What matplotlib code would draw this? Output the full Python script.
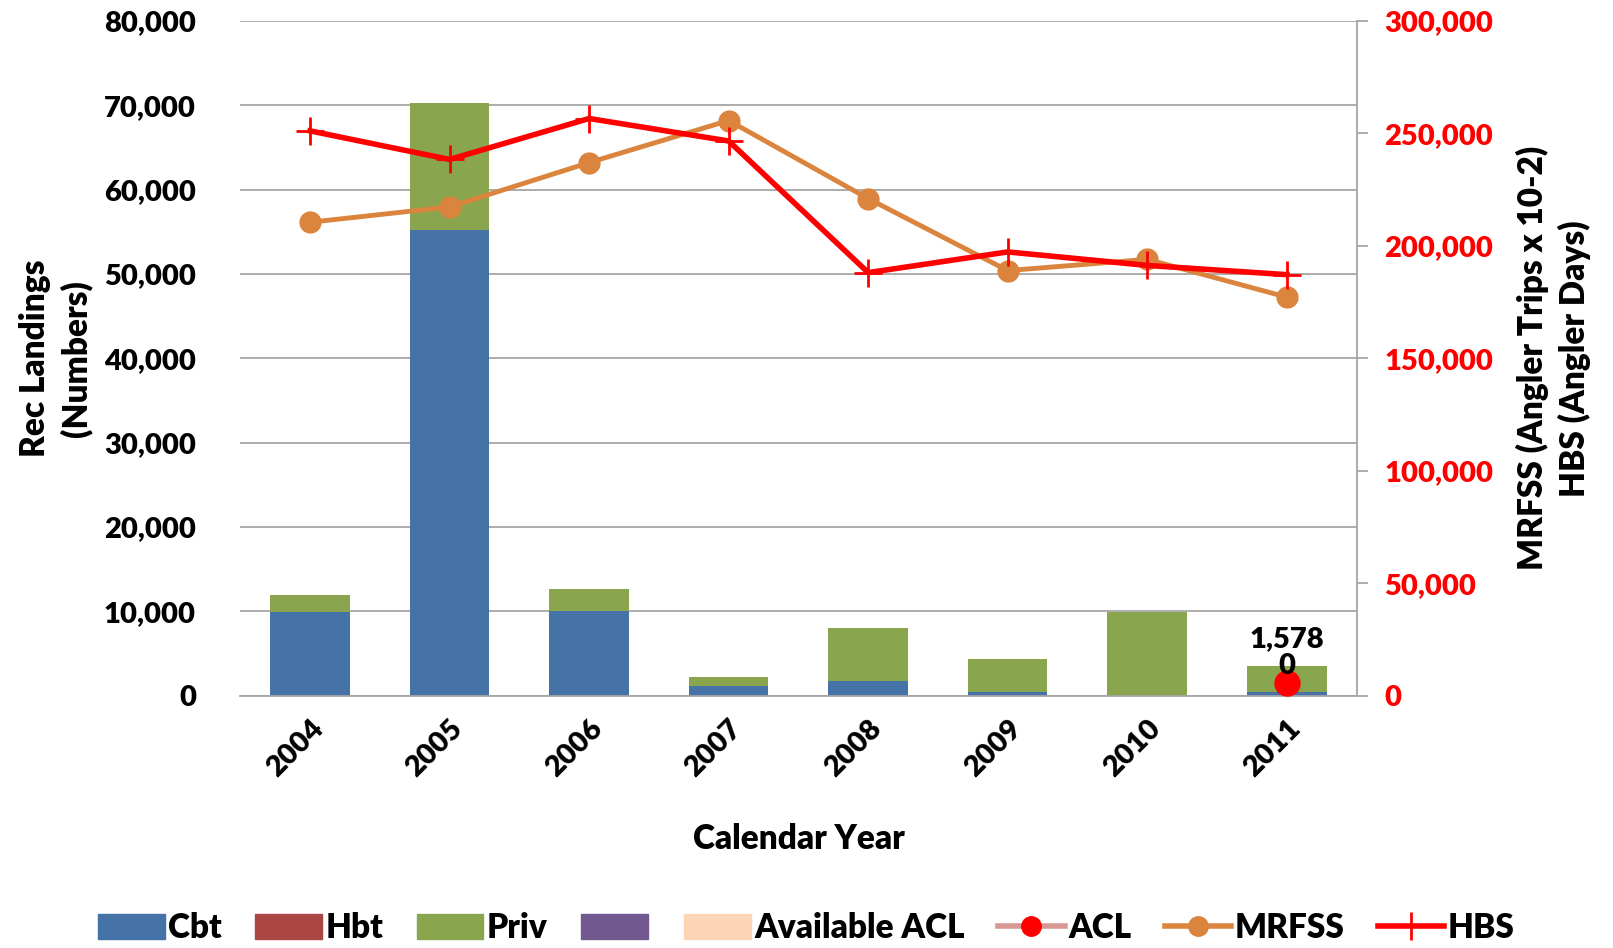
import matplotlib.pyplot as plt
import matplotlib.ticker as mticker
from matplotlib.lines import Line2D
from matplotlib.patches import Patch
import numpy as np

plt.rcParams['font.family'] = ['Lato', 'DejaVu Sans']
plt.rcParams['font.weight'] = 'heavy'

# Data
years = ['2004', '2005', '2006', '2007', '2008', '2009', '2010', '2011']
cbt = [9900, 55200, 10000, 1200, 1700, 500, 0, 500]
hbt = [0, 0, 0, 0, 0, 0, 0, 0]
priv = [2100, 15100, 2700, 1000, 6300, 3900, 9900, 3030]
acl_value = 1578
available_acl = 0
mrfss = [210500, 217300, 237000, 255700, 221000, 189000, 194000, 177200]
hbs = [251100, 238400, 256600, 246600, 188100, 197300, 191300, 187200]

c_cbt = '#4572A7'
c_hbt = '#AA4643'
c_priv = '#89A54E'
c_purple = '#71588F'
c_avail = '#FCD5B5'
c_mrfss = '#DB843D'
c_hbs = '#FF0000'
c_grid = '#A6A6A6'

W = 'heavy'
fig = plt.figure(figsize=(16.13, 9.48), dpi=100)
ax = fig.add_axes([0.149, 0.266, 0.692, 0.712])
ax2 = ax.twinx()

x = np.arange(len(years))
w = 0.57
ax.bar(x, cbt, w, color=c_cbt, zorder=2)
ax.bar(x, hbt, w, bottom=cbt, color=c_hbt, zorder=2)
ax.bar(x, priv, w, bottom=np.array(cbt) + np.array(hbt), color=c_priv, zorder=2)

ax.set_ylim(0, 80000)
ax.set_xlim(-0.5, len(years) - 0.5)
ax.yaxis.set_major_locator(mticker.MultipleLocator(10000))
ax.yaxis.set_major_formatter(mticker.StrMethodFormatter('{x:,.0f}'))
ax.grid(axis='y', color=c_grid, linewidth=1.3, zorder=0)
ax.set_axisbelow(True)
ax.set_xticks(x)
ax.set_xticklabels(years, rotation=45, ha='right', rotation_mode='anchor', fontsize=21, fontweight=W)
for lbl in ax.get_xticklabels():
    lbl.set_x(lbl.get_position()[0])
ax.tick_params(axis='y', labelsize=21, length=0, pad=32)
ax.tick_params(axis='x', length=0, pad=14)
for s in ['top', 'right', 'left']:
    ax.spines[s].set_visible(False)
ax.spines['bottom'].set_color(c_grid)
ax.spines['bottom'].set_linewidth(1.3)
ax.set_ylabel('Rec Landings\n(Numbers)', fontsize=24, fontweight=W, labelpad=8, linespacing=1.35)
ax.set_xlabel('Calendar Year', fontsize=24, fontweight=W, labelpad=30)

ax2.plot(x, mrfss, '-o', color=c_mrfss, linewidth=3.5, markersize=15, zorder=4)
ax2.plot(x, hbs, '-+', color=c_hbs, linewidth=4, markersize=20, markeredgewidth=2, zorder=4)

# ACL point and labels on 2011 (left-axis units, drawn on top)
ax2.plot(x[-1], acl_value, 'o', color='#FF0000', markersize=18, zorder=6, transform=ax.transData)
ax2.text(x[-1], acl_value + 3600, f'{acl_value:,}', ha='center', va='bottom', fontsize=21,
         fontweight=W, zorder=7, transform=ax.transData)
ax2.text(x[-1], acl_value + 400, f'{available_acl}', ha='center', va='bottom', fontsize=21,
         fontweight=W, zorder=7, transform=ax.transData)

ax2.set_ylim(0, 300000)
ax2.yaxis.set_major_locator(mticker.MultipleLocator(50000))
ax2.yaxis.set_major_formatter(mticker.StrMethodFormatter('{x:,.0f}'))
ax2.tick_params(axis='y', labelsize=21, colors=c_grid, labelcolor='#FF0000', length=8, width=1.3,
                direction='out', pad=12)
for s in ['top', 'left', 'bottom']:
    ax2.spines[s].set_visible(False)
ax2.spines['right'].set_color(c_grid)
ax2.spines['right'].set_linewidth(1.3)
ax2.set_ylabel('MRFSS (Angler Trips x 10-2)\nHBS (Angler Days)', fontsize=24, fontweight=W,
               labelpad=16, linespacing=1.35)

handles = [
    Patch(color=c_cbt), Patch(color=c_hbt), Patch(color=c_priv), Patch(color=c_purple),
    Patch(color=c_avail),
    Line2D([], [], color='#D99694', linewidth=4, marker='o', markersize=14, markerfacecolor='#FF0000', markeredgecolor='#FF0000'),
    Line2D([], [], color=c_mrfss, linewidth=4, marker='o', markersize=14),
    Line2D([], [], color=c_hbs, linewidth=4, marker='+', markersize=20, markeredgewidth=2),
]
labels = ['Cbt', 'Hbt', 'Priv', '', 'Available ACL', 'ACL', 'MRFSS', 'HBS']
fig.legend(handles, labels, loc='center', bbox_to_anchor=(0.50, 0.021), ncol=8, frameon=False,
           handlelength=2.0, handleheight=0.8, handletextpad=0.1, columnspacing=1.0,
           prop={'weight': W, 'size': 24})

fig.savefig('out.png', dpi=100)
